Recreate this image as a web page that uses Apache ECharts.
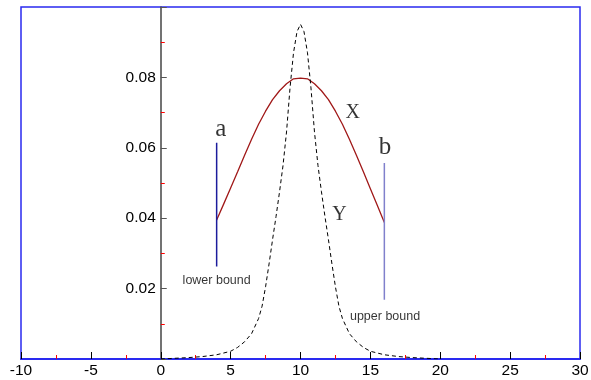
<!DOCTYPE html>
<html>
<head>
<meta charset="utf-8">
<script src="https://cdn.jsdelivr.net/npm/echarts@6/dist/echarts.min.js"></script>
<style>
  html, body { margin: 0; padding: 0; background: #fff; }
  #chart { width: 591px; height: 380px; }
</style>
</head>
<body>
<div id="chart"></div>
<script>
// X 曲线（截断在 a=4 与 b=16 之间）
const xCurveX = [4, 4.5, 5, 5.5, 6, 6.5, 7, 7.5, 8, 8.5, 9, 9.5, 10, 10.5, 11, 11.5, 12, 12.5, 13, 13.5, 14, 14.5, 15, 15.5, 16]
const xCurveY = [0.0395, 0.0440, 0.0486, 0.0532, 0.0579, 0.0624, 0.0667, 0.0704, 0.0737, 0.0762, 0.0782, 0.0796, 0.0798,
  0.0796, 0.0782, 0.0762, 0.0737, 0.0704, 0.0667, 0.0624, 0.0579, 0.0532, 0.0484, 0.0436, 0.0388]

// Y 曲线（虚线）
const yCurveX = [0, 1, 2, 3, 4, 5, 5.5, 6, 6.5, 7, 7.25, 7.5, 7.75, 8, 8.25, 8.5, 8.75, 9, 9.25, 9.5, 9.75, 10,
  10.25, 10.5, 10.75, 11, 11.25, 11.5, 11.75, 12, 12.25, 12.5, 12.75, 13, 13.5, 14, 14.5, 15, 16, 17, 18, 19, 20]
const yCurveY = [0, 0.0002, 0.0004, 0.0007, 0.0012, 0.0022, 0.0033, 0.0049, 0.0072, 0.0115, 0.0150, 0.0205, 0.0270,
  0.0339, 0.0405, 0.0475, 0.0550, 0.0645, 0.0770, 0.0870, 0.0930, 0.0951,
  0.0930, 0.0870, 0.0770, 0.0645, 0.0550, 0.0475, 0.0405, 0.0339, 0.0270, 0.0205, 0.0150, 0.0115,
  0.0072, 0.0049, 0.0033, 0.0022, 0.0012, 0.0007, 0.0004, 0.0002, 0]

// 上下界竖线
const boundA = { x: [4, 4], y: [0.0263, 0.0614] }
const boundB = { x: [16, 16], y: [0.0168, 0.0557] }

// 文字标注
const noteText = ['a', 'b', 'X', 'Y', 'lower bound', 'upper bound']
const noteX = [4.29, 16.05, 13.73, 12.78, 4.0, 16.05]
const noteY = [0.0652, 0.0600, 0.0700, 0.0410, 0.0222, 0.0122]

const toPairs = (xs, ys) => xs.map((v, i) => [v, ys[i]])

const serif = { fontFamily: 'Liberation Serif', color: '#000' }
const sans = { fontFamily: 'Liberation Sans', color: '#000' }
const noteStyle = [
  Object.assign({ fontSize: 25 }, serif),
  Object.assign({ fontSize: 25 }, serif),
  Object.assign({ fontSize: 20 }, serif),
  Object.assign({ fontSize: 20 }, serif),
  Object.assign({ fontSize: 12.5 }, sans),
  Object.assign({ fontSize: 12.5 }, sans)
]

// 网格位置：x=0 处的像素偏移，用来把 y 轴挪到 0 的位置（连同刻度和标签）
const gridLeft = 21, gridRight = 11
const plotW = 591 - gridLeft - gridRight
const zeroShift = plotW * (0 - (-10)) / (30 - (-10))

const myChart = echarts.init(document.getElementById('chart'))

const option = {
  animation: false,
  backgroundColor: '#fff',
  grid: {
    left: gridLeft, right: gridRight, top: 7, bottom: 21,
    outerBoundsMode: 'none',
    containLabel: false,
    show: true,
    borderColor: '#2a2af0',
    borderWidth: 1.5
  },
  xAxis: {
    type: 'value',
    min: -10,
    max: 30,
    interval: 5,
    axisLine: { show: true, onZero: false, lineStyle: { color: '#2a2af0', width: 2 } },
    axisTick: { show: true, inside: true, length: 7, lineStyle: { color: '#000', width: 1 } },
    minorTick: { show: true, splitNumber: 2, length: 4, lineStyle: { color: 'red', width: 1 } },
    splitLine: { show: false },
    axisLabel: { fontSize: 15.5, fontFamily: 'Liberation Sans', color: '#000', margin: 4 }
  },
  yAxis: {
    type: 'value',
    min: 0,
    max: 0.1,
    interval: 0.02,
    offset: -zeroShift,
    axisLine: { show: true, onZero: false, lineStyle: { color: '#444', width: 1.5 } },
    axisTick: { show: true, inside: true, length: 6, lineStyle: { color: '#555' } },
    minorTick: { show: true, splitNumber: 2, length: 4, lineStyle: { color: 'red' } },
    splitLine: { show: false },
    axisLabel: {
      showMinLabel: false,
      showMaxLabel: false,
      fontSize: 15.5,
      fontFamily: 'Liberation Sans',
      color: '#000',
      margin: 5,
      formatter: v => v.toFixed(2)
    }
  },
  series: [
    {
      name: 'X',
      type: 'line',
      data: toPairs(xCurveX, xCurveY),
      showSymbol: false,
      lineStyle: { color: '#a01818', width: 1.3 }
    },
    {
      name: 'Y',
      type: 'line',
      data: toPairs(yCurveX, yCurveY),
      showSymbol: false,
      lineStyle: { color: '#000', width: 1, type: [4, 3] }
    },
    {
      name: 'a',
      type: 'line',
      data: toPairs(boundA.x, boundA.y),
      showSymbol: false,
      lineStyle: { color: '#1c1c9c', width: 1.5 }
    },
    {
      name: 'b',
      type: 'line',
      data: toPairs(boundB.x, boundB.y),
      showSymbol: false,
      lineStyle: { color: '#8080cc', width: 1.5 }
    },
    {
      name: 'notes',
      type: 'scatter',
      symbolSize: 0,
      silent: true,
      data: noteText.map((t, i) => ({
        value: [noteX[i], noteY[i]],
        label: Object.assign({ show: true, position: 'inside', formatter: t }, noteStyle[i])
      }))
    }
  ]
}

myChart.setOption(option)
</script>
</body>
</html>
